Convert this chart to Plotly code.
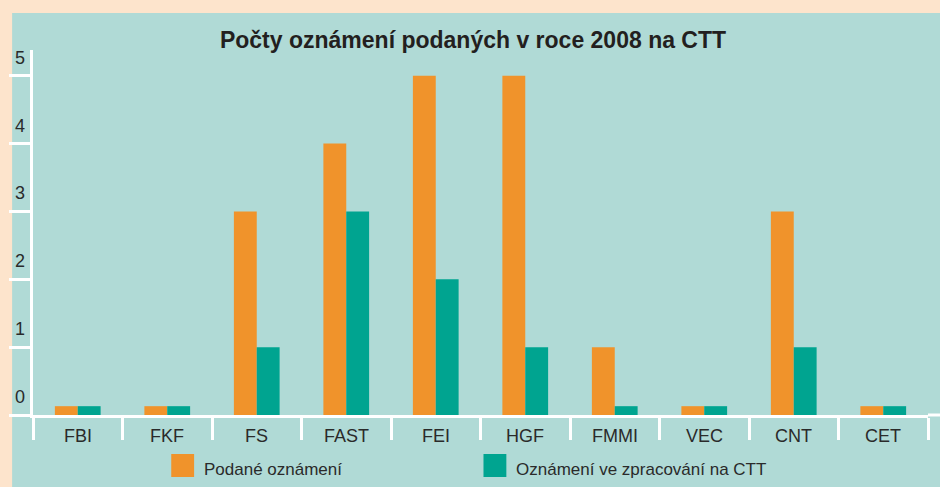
import plotly.graph_objects as go

categories = ["FBI", "FKF", "FS", "FAST", "FEI", "HGF", "FMMI", "VEC", "CNT", "CET"]
podane = [0.13, 0.13, 3, 4, 5, 5, 1, 0.13, 3, 0.13]
zpracovani = [0.13, 0.13, 1, 3, 2, 1, 0.13, 0.13, 1, 0.13]
series_names = ["Podané oznámení", "Oznámení ve zpracování na CTT"]
y_ticks = [0, 1, 2, 3, 4, 5]
title_text = "Počty oznámení podaných v roce 2008 na CTT"

ORANGE = "#f0932b"
TEAL = "#00a490"
BG = "#b0dad6"
PEACH = "#fde4cc"
TXT = "#2a2a2a"
FONT = "Liberation Sans, Arial, sans-serif"

W, H = 940, 487
L, R, T, B = 28, 12, 50, 72
PW = W - L - R
PH = H - T - B


def px(x):
    return (x - L) / PW


def py(y):
    return (H - B - y) / PH


fig = go.Figure()
fig.add_trace(go.Bar(x=categories, y=podane, name=series_names[0],
                     marker=dict(color=ORANGE, line=dict(width=0)), showlegend=False))
fig.add_trace(go.Bar(x=categories, y=zpracovani, name=series_names[1],
                     marker=dict(color=TEAL, line=dict(width=0)), showlegend=False))

shapes = [
    dict(type="rect", xref="paper", yref="paper", x0=px(7), x1=px(941), y0=py(488), y1=py(13),
         fillcolor=BG, line=dict(width=0), layer="below"),
    # x axis line extension to the right edge
    dict(type="line", xref="paper", yref="paper", x0=1, x1=px(941), y0=0, y1=0,
         line=dict(color="white", width=3)),
]
annotations = []

# y tick labels above tick lines
for v in y_ticks:
    annotations.append(dict(x=0, xref="paper", y=v, yref="y", text=str(v), showarrow=False,
                            xanchor="center", yanchor="middle", xshift=-13, yshift=18,
                            font=dict(size=18, color=TXT, family=FONT)))

# x category labels
for c in categories:
    annotations.append(dict(x=c, xref="x", y=0, yref="paper", text=c, showarrow=False,
                            xanchor="center", yanchor="middle", yshift=-21,
                            font=dict(size=18, color=TXT, family=FONT)))

# manual legend
legend_items = [(series_names[0], ORANGE, 167), (series_names[1], TEAL, 481)]
for name, col, x0 in legend_items:
    shapes.append(dict(type="rect", xref="paper", yref="paper", x0=px(x0), x1=px(x0 + 23),
                       y0=py(477), y1=py(454), fillcolor=col, line=dict(width=0)))
    annotations.append(dict(x=px(x0 + 31), xref="paper", y=py(469), yref="paper", text=name,
                            showarrow=False, xanchor="left", yanchor="middle",
                            font=dict(size=17, color=TXT, family=FONT)))

fig.update_layout(
    width=W, height=H,
    margin=dict(l=L, r=R, t=T, b=B, pad=0),
    paper_bgcolor=PEACH,
    plot_bgcolor=BG,
    barmode="group",
    bargap=0.489,
    bargroupgap=0,
    title=dict(text="<b>" + title_text + "</b>", x=(473) / W, xanchor="center",
               y=1 - 40 / H, yanchor="middle",
               font=dict(size=23, color="#231f20", family=FONT)),
    xaxis=dict(type="category", showgrid=False, showline=True, linecolor="white", linewidth=3,
               ticks="outside", tickson="boundaries", ticklen=22, tickwidth=3, tickcolor="white",
               showticklabels=False, fixedrange=True),
    yaxis=dict(range=[0, 5.38], showgrid=False, zeroline=False, showline=True, linecolor="white",
               linewidth=3, ticks="outside", tickvals=y_ticks, ticklen=21, tickwidth=3,
               tickcolor="white", showticklabels=False, fixedrange=True),
    shapes=shapes,
    annotations=annotations,
    showlegend=False,
)

fig.write_html("out.html", config={"displayModeBar": False})

with open("out.html", "r", encoding="utf-8") as f:
    html = f.read()
html = html.replace("<head>", "<head><style>html,body{margin:0;padding:0;overflow:hidden;}</style>", 1)
with open("out.html", "w", encoding="utf-8") as f:
    f.write(html)
